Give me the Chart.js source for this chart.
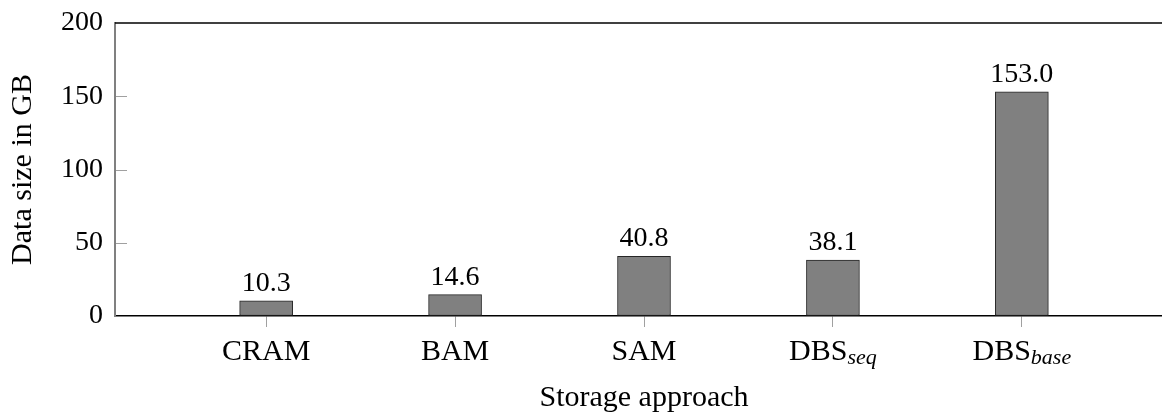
<!DOCTYPE html>
<html>
<head>
<meta charset="utf-8">
<script src="https://cdn.jsdelivr.net/npm/chart.js@4.4.1/dist/chart.umd.min.js"></script>
<style>
  html, body { margin: 0; padding: 0; background: #fff; overflow: hidden; }
  canvas { display: block; }
</style>
</head>
<body>
<canvas id="chart" width="1180" height="413" style="width:1180px;height:413px"></canvas>
<script>
// Storage footprint per approach (GB)
const categories = ['CRAM', 'BAM', 'SAM', 'DBS', 'DBS'];
const subscripts = ['', '', '', 'seq', 'base'];
const sizesGB = [10.3, 14.6, 40.8, 38.1, 153.0];
const yTickValues = [0, 50, 100, 150, 200];

const SERIF = "'Liberation Serif', 'DejaVu Serif', serif";
const NUM_SIZE = 28;
const TEXT_SIZE = 30;
const SUB_SIZE = 22;

// Value printed above each bar
const valueLabels = {
  id: 'valueLabels',
  afterDatasetsDraw(chart) {
    const ctx = chart.ctx;
    const meta = chart.getDatasetMeta(0);
    ctx.save();
    ctx.fillStyle = '#000';
    ctx.font = NUM_SIZE + 'px ' + SERIF;
    ctx.textAlign = 'center';
    ctx.textBaseline = 'alphabetic';
    meta.data.forEach((bar, i) => {
      ctx.fillText(sizesGB[i].toFixed(1), bar.x, bar.y - 10);
    });
    ctx.restore();
  }
};

// Inward y ticks, top frame line and category labels with italic subscripts
const frame = {
  id: 'frame',
  afterDraw(chart) {
    const ctx = chart.ctx;
    const area = chart.chartArea;
    const y = chart.scales.y;
    const x = chart.scales.x;
    ctx.save();
    // inward ticks on the value axis (the ends sit under the frame lines)
    ctx.strokeStyle = '#a0a0a0';
    ctx.lineWidth = 1;
    yTickValues.forEach(v => {
      if (v === y.min || v === y.max) return;
      const py = Math.round(y.getPixelForValue(v)) + 0.5;
      ctx.beginPath();
      ctx.moveTo(area.left + 1, py);
      ctx.lineTo(area.left + 12, py);
      ctx.stroke();
    });
    // top line
    ctx.strokeStyle = '#000';
    ctx.lineWidth = 1.5;
    ctx.beginPath();
    ctx.moveTo(area.left, area.top);
    ctx.lineTo(area.right + 10, area.top);
    ctx.stroke();
    // category labels
    ctx.fillStyle = '#000';
    ctx.textBaseline = 'alphabetic';
    ctx.textAlign = 'left';
    const baseY = 360;
    const mainFont = TEXT_SIZE + 'px ' + SERIF;
    const subFont = 'italic ' + SUB_SIZE + 'px ' + SERIF;
    categories.forEach((name, i) => {
      const cx = x.getPixelForValue(i);
      ctx.font = mainFont;
      const wMain = ctx.measureText(name).width;
      let wSub = 0;
      if (subscripts[i]) {
        ctx.font = subFont;
        wSub = ctx.measureText(subscripts[i]).width;
      }
      const startX = cx - (wMain + wSub) / 2;
      ctx.font = mainFont;
      ctx.fillText(name, startX, baseY);
      if (subscripts[i]) {
        ctx.font = subFont;
        ctx.fillText(subscripts[i], startX + wMain, baseY + 4);
      }
    });
    ctx.restore();
  }
};

new Chart(document.getElementById('chart'), {
  type: 'bar',
  data: {
    datasets: [{
      data: sizesGB.map((v, i) => ({ x: i, y: v })),
      backgroundColor: '#808080',
      borderColor: '#262626',
      borderWidth: 1,
      borderSkipped: false,
      barThickness: 53
    }]
  },
  options: {
    responsive: false,
    animation: false,
    devicePixelRatio: 1,
    layout: { padding: { top: 23, right: 7, left: 0, bottom: 0 } },
    plugins: {
      legend: { display: false },
      tooltip: { enabled: false }
    },
    scales: {
      x: {
        type: 'linear',
        offset: false,
        min: -0.8,
        max: 4.8,
        afterBuildTicks(scale) {
          scale.ticks = categories.map((_, i) => ({ value: i }));
        },
        afterFit(scale) { scale.height = 97; },
        ticks: { display: false },
        grid: {
          offset: false,
          drawOnChartArea: false,
          drawTicks: true,
          tickLength: 11,
          color: '#a0a0a0',
          lineWidth: 1
        },
        border: { display: true, color: '#000', width: 1.5 },
        title: {
          display: true,
          text: 'Storage approach',
          color: '#000',
          font: { family: SERIF, size: TEXT_SIZE, lineHeight: 1 },
          padding: { top: 0, bottom: 0 }
        }
      },
      y: {
        min: 0,
        max: 200,
        afterBuildTicks(scale) {
          scale.ticks = yTickValues.map(v => ({ value: v }));
        },
        afterFit(scale) {
          scale.width = 115;
          scale.paddingTop = 0;
          scale.paddingBottom = 0;
        },
        ticks: {
          color: '#000',
          padding: 12,
          font: { family: SERIF, size: NUM_SIZE }
        },
        grid: { drawOnChartArea: false, drawTicks: false },
        border: { display: true, color: '#808080', width: 2 },
        title: {
          display: true,
          text: 'Data size in GB',
          color: '#000',
          font: { family: SERIF, size: TEXT_SIZE, lineHeight: 1 },
          padding: { top: 8, bottom: 0 }
        }
      }
    }
  },
  plugins: [valueLabels, frame]
});
</script>
</body>
</html>
